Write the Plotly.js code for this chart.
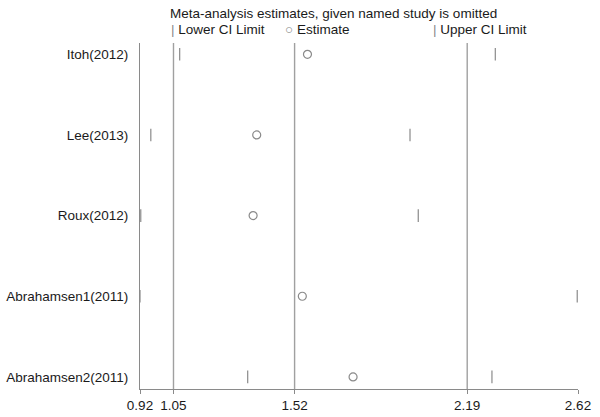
<!DOCTYPE html>
<html><head><meta charset="utf-8">
<script src="https://cdn.plot.ly/plotly-3.0.1.min.js"></script>
<style>html,body{margin:0;padding:0;background:#fff}#chart{width:600px;height:417px}</style>
</head><body><div id="chart"></div>
<script>
// Data
const studies = ["Itoh(2012)", "Lee(2013)", "Roux(2012)", "Abrahamsen1(2011)", "Abrahamsen2(2011)"];
const lowerCI  = [1.074, 0.962, 0.923, 0.92, 1.338];
const estimate = [1.570, 1.373, 1.359, 1.550, 1.747];
const upperCI  = [2.299, 1.968, 2.000, 2.617, 2.286];
const refLines = [1.05, 1.52, 2.19];           // overall lower CI, estimate, upper CI
const xTicks   = [0.92, 1.05, 1.52, 2.19, 2.62];
const xTickText = ["0.92", "1.05", "1.52", "2.19", "2.62"];
const chartTitle = "Meta-analysis estimates, given named study is omitted";
const legendLabels = ["Lower CI Limit", "Estimate", "Upper CI Limit"];

const rowIdx = studies.map((_, i) => i + 1);
const markCol = "#8a8a8a";
const font = {family: "Liberation Sans, Arial, sans-serif", size: 13.5, color: "#1a1a1a"};

const traces = [
  {x: lowerCI, y: rowIdx, type: "scatter", mode: "markers", name: legendLabels[0],
   marker: {symbol: "line-ns-open", size: 9, color: markCol, line: {color: markCol, width: 1.2}}, cliponaxis: false},
  {x: estimate, y: rowIdx, type: "scatter", mode: "markers", name: legendLabels[1],
   marker: {symbol: "circle-open", size: 8, color: markCol, line: {color: markCol, width: 1.2}}, cliponaxis: false},
  {x: upperCI, y: rowIdx, type: "scatter", mode: "markers", name: legendLabels[2],
   marker: {symbol: "line-ns-open", size: 9, color: markCol, line: {color: markCol, width: 1.2}}, cliponaxis: false}
];

const shapes = refLines.map(v => ({
  type: "line", xref: "x", yref: "paper", x0: v, x1: v, y0: 0, y1: 1,
  line: {color: "#a0a0a0", width: 1.4}, layer: "below"
}));

const legendX = [0.066, 0.326, 0.664];
const legendGlyph = ["|", "○", "|"];
const annotations = legendLabels.map((t, i) => ({
  xref: "paper", yref: "paper", x: legendX[i], y: 1.0376, xanchor: "left", yanchor: "middle",
  showarrow: false, font: font,
  text: '<span style="color:' + markCol + '">' + legendGlyph[i] + '</span> ' + t
}));

const layout = {
  width: 600, height: 417,
  margin: {l: 140, r: 22, t: 43, b: 28},
  paper_bgcolor: "#fff", plot_bgcolor: "#fff",
  font: font, showlegend: false,
  title: {text: chartTitle, font: font, xref: "paper", x: 0.0685, xanchor: "left",
          yref: "container", y: 1 - 13/417, yanchor: "middle"},
  xaxis: {range: [0.92, 2.62], tickvals: xTicks, ticktext: xTickText, showgrid: false, zeroline: false,
          showline: true, linecolor: "#8a8a8a", linewidth: 1, ticks: "outside", ticklen: 4,
          tickcolor: "#8a8a8a", tickfont: font, fixedrange: true},
  yaxis: {range: [5.15, 0.86], tickvals: rowIdx, ticktext: studies, showgrid: false, zeroline: false,
          showline: true, linecolor: "#8a8a8a", linewidth: 1, ticks: "", ticklabelstandoff: 8,
          tickfont: font, fixedrange: true},
  shapes: shapes, annotations: annotations
};

Plotly.newPlot("chart", traces, layout, {displayModeBar: false, staticPlot: true});
</script></body></html>
